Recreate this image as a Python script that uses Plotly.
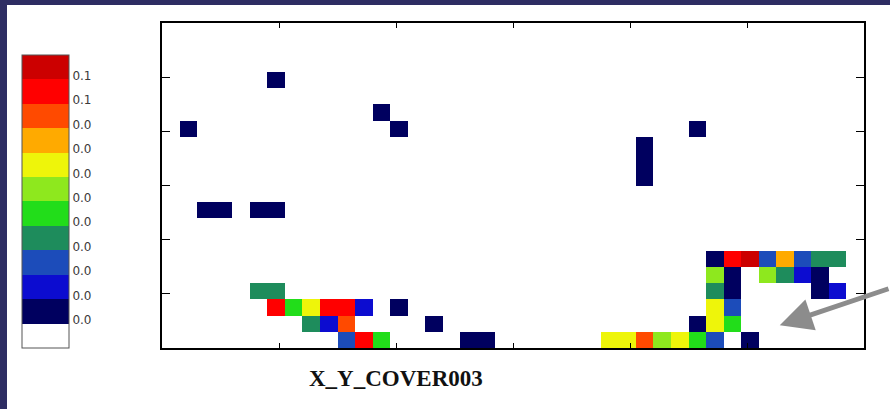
import plotly.graph_objects as go

# Grid of the coverage map (cells along x and y)
N_COLS = 40
N_ROWS = 20

# Colour bands: value of each band and its colour (lowest to highest)
band_values = [0.0, 0.005, 0.010, 0.015, 0.020, 0.025, 0.030, 0.035, 0.040, 0.045, 0.050, 0.055]
band_colors = ["#ffffff", "#00005f", "#0c0cd0", "#1c4cba", "#1e8c5c", "#22dd1a",
               "#8ee81e", "#eef50a", "#ffaa00", "#ff4a00", "#ff0000", "#cc0000"]

# Occupied cells: column, row (from bottom) and coverage value
cell_col = [6, 1, 12, 13, 2, 3, 5, 6, 27, 27, 27, 30, 13, 15, 17, 18,
            5, 6, 6, 7, 8, 9, 10, 11, 8, 9, 10, 10, 11, 12,
            31, 32, 33, 34, 35, 36, 37, 38,
            31, 32, 34, 35, 36, 37,
            31, 32, 37, 38,
            31, 32,
            30, 31, 32,
            25, 26, 27, 28, 29, 30, 31, 33]
cell_row = [16, 13, 14, 13, 8, 8, 8, 8, 10, 11, 12, 13, 2, 1, 0, 0,
            3, 3, 2, 2, 2, 2, 2, 2, 1, 1, 1, 0, 0, 0,
            5, 5, 5, 5, 5, 5, 5, 5,
            4, 4, 4, 4, 4, 4,
            3, 3, 3, 3,
            2, 2,
            1, 1, 1,
            0, 0, 0, 0, 0, 0, 0, 0]
cell_value = [0.005, 0.005, 0.005, 0.005, 0.005, 0.005, 0.005, 0.005, 0.005, 0.005, 0.005, 0.005, 0.005, 0.005, 0.005, 0.005,
              0.020, 0.020, 0.050, 0.025, 0.035, 0.050, 0.050, 0.010, 0.020, 0.010, 0.045, 0.015, 0.050, 0.025,
              0.005, 0.050, 0.055, 0.015, 0.040, 0.015, 0.020, 0.020,
              0.030, 0.005, 0.030, 0.020, 0.010, 0.005,
              0.020, 0.005, 0.005, 0.010,
              0.035, 0.015,
              0.005, 0.035, 0.025,
              0.035, 0.035, 0.045, 0.030, 0.035, 0.025, 0.015, 0.005]

title_text = "X_Y_COVER003"

# Build the value matrix (empty cells left blank)
z = [[None] * N_COLS for _ in range(N_ROWS)]
for c, r, v in zip(cell_col, cell_row, cell_value):
    z[r][c] = v

# Stepped colour scale: one flat band per value
half = (band_values[1] - band_values[0]) / 2
zmin = band_values[0] - half
zmax = band_values[-1] + half
nb = len(band_colors)
colorscale = []
for i, col in enumerate(band_colors):
    colorscale.append([i / nb, col])
    colorscale.append([(i + 1) / nb, col])

tick_vals = [v - 0.35 * 2 * half for v in band_values[1:]]
tick_text = [f"{v:.1f}" for v in band_values[1:]]

W, H = 890, 409
L, R, T, B = 162, 26, 23, 61
plot_w = W - L - R
plot_h = H - T - B

def px_x(p):
    return (p - L) / plot_w

def px_y(p):
    return (H - B - p) / plot_h

fig = go.Figure(go.Heatmap(
    z=z,
    x=[i + 0.5 for i in range(N_COLS)],
    y=[j + 0.5 for j in range(N_ROWS)],
    zmin=zmin, zmax=zmax,
    colorscale=colorscale,
    hoverongaps=False,
    colorbar=dict(
        x=px_x(21.5), xanchor="left", xpad=0,
        y=px_y(348), yanchor="bottom", ypad=0,
        thickness=47, thicknessmode="pixels",
        len=293 / plot_h, lenmode="fraction",
        outlinewidth=1, outlinecolor="#555555",
        tickmode="array", tickvals=tick_vals, ticktext=tick_text,
        ticks="", ticklabelposition="outside",
        tickfont=dict(family="DejaVu Sans", size=12, color="#3a3a3a"),
    ),
))

axis_common = dict(
    showgrid=False, zeroline=False, showticklabels=False,
    showline=True, linecolor="black", linewidth=1.5, mirror="ticks",
    ticks="inside", tickcolor="black", tickwidth=1,
)
fig.update_xaxes(range=[0, N_COLS], tickmode="linear", tick0=0, dtick=N_COLS / 6,
                 ticklen=5, **axis_common)
fig.update_yaxes(range=[0, N_ROWS], tickmode="linear", tick0=0, dtick=N_ROWS / 6,
                 ticklen=8, **axis_common)

border = "#2e2d63"
fig.add_shape(type="rect", xref="paper", yref="paper",
              x0=px_x(0), x1=px_x(W + 2), y0=px_y(5), y1=px_y(-2),
              fillcolor=border, line_width=0, layer="above")
fig.add_shape(type="rect", xref="paper", yref="paper",
              x0=px_x(-2), x1=px_x(7), y0=px_y(H + 2), y1=px_y(-2),
              fillcolor=border, line_width=0, layer="above")

fig.add_annotation(
    x=35.2, y=1.4, xref="x", yref="y",
    ax=112, ay=-37, axref="pixel", ayref="pixel",
    text="", showarrow=True, arrowhead=2, arrowsize=1.3, arrowwidth=5,
    arrowcolor="#8c8c8c",
)

fig.add_annotation(
    x=px_x(396), y=px_y(378), xref="paper", yref="paper",
    text=title_text, showarrow=False, xanchor="center", yanchor="middle",
    font=dict(family="Liberation Serif", size=23, color="#111111", weight="bold"),
)

fig.update_layout(
    width=W, height=H,
    margin=dict(l=L, r=R, t=T, b=B, pad=0),
    paper_bgcolor="white", plot_bgcolor="white",
    showlegend=False,
)

fig.write_html("out.html")
